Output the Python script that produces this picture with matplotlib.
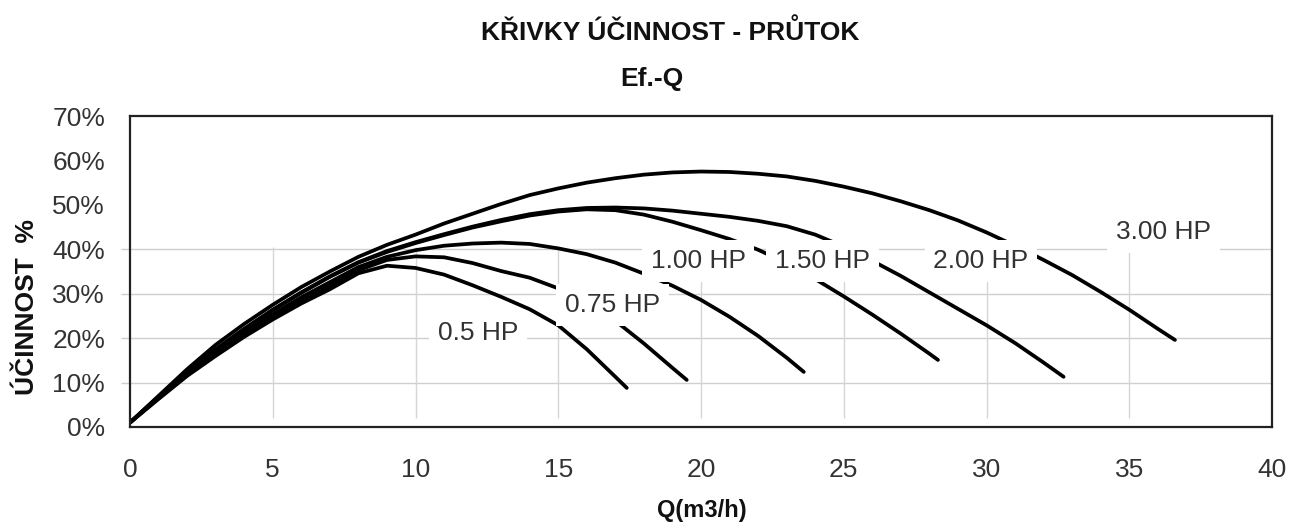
import matplotlib
matplotlib.use("Agg")
import matplotlib.pyplot as plt

# ---------------- data ----------------
q_05 = [0, 1, 2, 3, 4, 5, 6, 7, 8, 9, 10, 11, 12, 13, 14, 15, 16, 17, 17.4]
e_05 = [1, 6.3, 11.5, 16, 20.3, 24.2, 27.8, 31, 34.6, 36.3, 35.8, 34.3, 31.9, 29.3, 26.5, 22.9, 17.5, 11.3, 8.8]

q_075 = [0, 1, 2, 3, 4, 5, 6, 7, 8, 9, 10, 11, 12, 13, 14, 15, 16, 17, 18, 19, 19.5]
e_075 = [1, 6.5, 11.8, 16.5, 20.8, 24.8, 28.5, 31.8, 35.3, 37.6, 38.4, 38.2, 36.9, 35.1, 33.6, 31.2, 28.0, 23.9, 18.8, 13.3, 10.6]

q_100 = [0, 1, 2, 3, 4, 5, 6, 7, 8, 9, 10, 11, 12, 13, 14, 15, 16, 17, 18, 19, 20, 21, 22, 23, 23.6]
e_100 = [1, 6.6, 12, 16.8, 21.3, 25.4, 29.2, 32.6, 36.0, 38.3, 39.8, 40.8, 41.3, 41.5, 41.2, 40.2, 38.9, 37.0, 34.5, 31.8, 28.6, 24.8, 20.5, 15.6, 12.4]

q_150 = [0, 1, 2, 3, 4, 5, 6, 7, 8, 9, 10, 11, 12, 13, 14, 15, 16, 17, 18, 19, 20, 21, 22, 23, 24, 25, 26, 27, 28, 28.3]
e_150 = [1, 6.8, 12.4, 17.4, 22, 26.3, 30.2, 33.8, 37.0, 39.4, 41.4, 43.2, 44.9, 46.3, 47.6, 48.5, 49.0, 48.8, 47.8, 46.2, 44.3, 42.3, 39.9, 36.9, 33.3, 29.4, 25.3, 21.0, 16.5, 15.1]

q_200 = [0, 1, 2, 3, 4, 5, 6, 7, 8, 9, 10, 11, 12, 13, 14, 15, 16, 17, 18, 19, 20, 21, 22, 23, 24, 25, 26, 27, 28, 29, 30, 31, 32, 32.7]
e_200 = [1, 6.8, 12.5, 17.5, 22.1, 26.4, 30.3, 33.9, 37.1, 39.6, 41.6, 43.4, 45.1, 46.6, 47.9, 48.8, 49.3, 49.4, 49.2, 48.7, 48.0, 47.3, 46.4, 45.2, 43.3, 40.6, 37.4, 34.0, 30.3, 26.6, 22.9, 18.9, 14.5, 11.3]

q_300 = [0, 1, 2, 3, 4, 5, 6, 7, 8, 9, 10, 11, 12, 13, 14, 15, 16, 17, 18, 19, 20, 21, 22, 23, 24, 25, 26, 27, 28, 29, 30, 31, 32, 33, 34, 35, 36, 36.6]
e_300 = [1, 7, 13, 18.5, 23.2, 27.5, 31.5, 35, 38.3, 41, 43.3, 45.8, 48, 50.2, 52.2, 53.7, 55, 56, 56.8, 57.3, 57.5, 57.4, 57, 56.4, 55.4, 54.1, 52.6, 50.8, 48.8, 46.5, 43.8, 40.8, 37.6, 34.2, 30.4, 26.4, 22.1, 19.6]

series = [(q_05, e_05), (q_075, e_075), (q_100, e_100),
          (q_150, e_150), (q_200, e_200), (q_300, e_300)]

labels = ["0.5 HP", "0.75 HP", "1.00 HP", "1.50 HP", "2.00 HP", "3.00 HP"]
label_q = [12.2, 16.9, 19.9, 24.25, 29.8, 36.2]
label_e = [21.2, 27.5, 37.4, 37.4, 37.4, 43.9]

x_ticks = [0, 5, 10, 15, 20, 25, 30, 35, 40]
y_ticks = [0, 10, 20, 30, 40, 50, 60, 70]
y_ticklabels = ["0%", "10%", "20%", "30%", "40%", "50%", "60%", "70%"]
h_grid = [10, 20, 30, 40]
v_grid = [5, 10, 15, 20, 25, 30, 35]

title1 = "KŘIVKY ÚČINNOST - PRŮTOK"
title2 = "Ef.-Q"
xlabel = "Q(m3/h)"
ylabel = "ÚČINNOST  %"

# ---------------- drawing ----------------
plt.rcParams['font.family'] = ['Liberation Sans', 'DejaVu Sans']

W, H = 1295, 526
fig = plt.figure(figsize=(W / 100, H / 100), dpi=100)
ax = fig.add_axes([130 / W, 1 - 427 / H, 1142 / W, 311 / H])

ax.set_xlim(0, 40)
ax.set_ylim(0, 70)

# grid (only in lower part, as in the reference)
ax.hlines(h_grid, -0.3, 40, colors='#cfcfcf', linewidth=1.0, zorder=1, clip_on=False)
ax.vlines(v_grid, 2, 40.5, colors='#d6d6d6', linewidth=1.0, zorder=1)

for q, e in series:
    ax.plot(q, e, color='black', linewidth=2.7, solid_capstyle='round',
            solid_joinstyle='round', zorder=3)

for txt, xq, ye in zip(labels, label_q, label_e):
    ax.text(xq, ye, txt, fontsize=19, color='#333333', ha='center', va='center',
            zorder=6,
            bbox=dict(boxstyle='square,pad=0.33', facecolor='white', edgecolor='none'))

ax.set_xticks(x_ticks)
ax.set_xticklabels([str(v) for v in x_ticks])
ax.set_yticks(y_ticks)
ax.set_yticklabels(y_ticklabels)
ax.tick_params(axis='both', length=0, labelsize=19, labelcolor='#333333')
ax.tick_params(axis='y', pad=18)
ax.tick_params(axis='x', pad=22)

for s in ax.spines.values():
    s.set_color('#222222')
    s.set_linewidth(1.6)
    s.set_zorder(7)

fig.text(670 / W, 1 - 32 / H, title1, fontsize=19, fontweight='bold',
         ha='center', va='center', color='#111111')
fig.text(652 / W, 1 - 79 / H, title2, fontsize=19, fontweight='bold',
         ha='center', va='center', color='#111111')
fig.text(702 / W, 1 - 510 / H, xlabel, fontsize=17, fontweight='bold',
         ha='center', va='center', color='#111111')
fig.text(27 / W, 1 - 307 / H, ylabel, fontsize=19, fontweight='bold',
         ha='center', va='center', rotation=90, color='#111111')

fig.savefig("out.png", dpi=100, facecolor='white')
